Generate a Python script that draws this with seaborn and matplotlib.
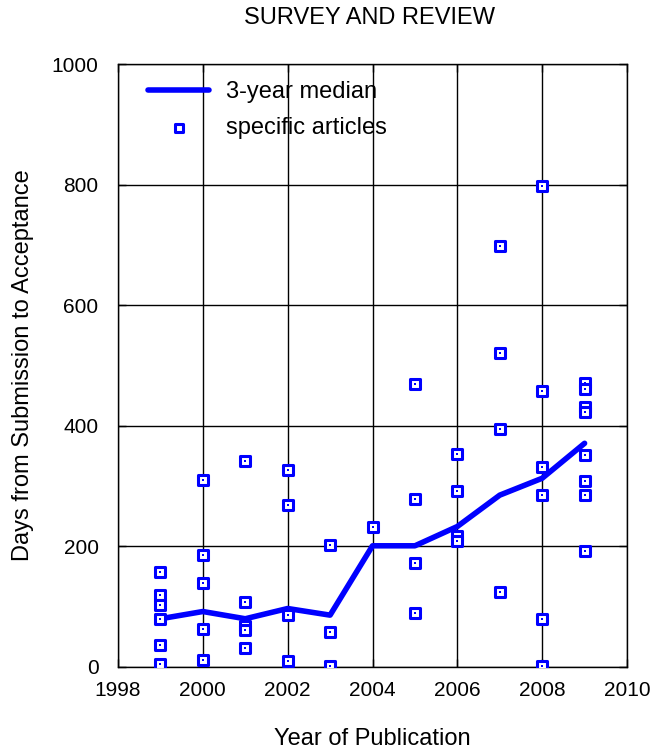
import numpy as np
import pandas as pd
import matplotlib
matplotlib.use("Agg")
import matplotlib.pyplot as plt
import seaborn as sns

# Data
median_years = [1999, 2000, 2001, 2002, 2003, 2004, 2005, 2006, 2007, 2008, 2009]
median_days = [80, 92, 80, 97, 86, 201, 201, 233, 285, 313, 371]

article_years = (
    [1999] * 6 + [2000] * 5 + [2001] * 5 + [2002] * 4 + [2003] * 3 + [2004] * 1
    + [2005] * 4 + [2006] * 4 + [2007] * 4 + [2008] * 6 + [2009] * 8
)
article_days = (
    [158, 119, 103, 80, 36, 5]
    + [310, 185, 139, 63, 11]
    + [341, 107, 68, 61, 32]
    + [327, 269, 86, 10]
    + [202, 58, 2]
    + [232]
    + [469, 279, 173, 90]
    + [353, 292, 217, 209]
    + [698, 520, 394, 125]
    + [797, 457, 331, 285, 80, 2]
    + [471, 461, 431, 423, 352, 309, 285, 192]
)

x_ticks = [1998, 2000, 2002, 2004, 2006, 2008, 2010]
y_ticks = [0, 200, 400, 600, 800, 1000]

sns.set_theme(style="white")
plt.rcParams["font.family"] = ["Liberation Sans", "DejaVu Sans"]
plt.rcParams["text.color"] = "black"
plt.rcParams["axes.labelcolor"] = "black"

fig = plt.figure(figsize=(6.54, 7.5), dpi=100)
ax = fig.add_axes([118 / 654, 1 - 667 / 750, (627 - 118) / 654, (667 - 64) / 750])

med = pd.DataFrame({"year": median_years, "days": median_days})
art = pd.DataFrame({"year": article_years, "days": article_days})

sns.lineplot(data=med, x="year", y="days", ax=ax, color="#0000ff", lw=4,
             label="3-year median", zorder=3)
sns.scatterplot(data=art, x="year", y="days", ax=ax, marker="s", s=60,
                facecolor="white", edgecolor="#0000ff", linewidth=2.2,
                label="specific articles", zorder=4)
ax.scatter(article_years, article_days, marker="s", s=3, color="#0000ff",
           linewidths=0, zorder=5)

ax.set_xlim(1998, 2010)
ax.set_ylim(0, 1000)
ax.set_xticks(x_ticks)
ax.set_yticks(y_ticks)
ax.grid(True, color="black", lw=1)
for s in ax.spines.values():
    s.set_color("black")
    s.set_linewidth(1)
ax.tick_params(direction="in", length=6, width=1, colors="black",
               labelsize=15, top=True, right=True, bottom=True, left=True)
ax.tick_params(axis="y", pad=14)
ax.tick_params(axis="x", pad=10)
ax.set_xlabel("Year of Publication", fontsize=17, labelpad=20)
ax.set_ylabel("Days from Submission to Acceptance", fontsize=17, labelpad=13)
fig.text(370 / 654, 1 - 18 / 750, "SURVEY AND REVIEW", ha="center", va="center",
         fontsize=17)

leg = ax.legend(loc="upper left", bbox_to_anchor=(0.059, 0.972), frameon=False,
                fontsize=17, handlelength=2.6, borderaxespad=0, borderpad=0,
                handletextpad=0.7, labelspacing=0.6, markerscale=0.8)

fig.savefig("out.png", dpi=100)
